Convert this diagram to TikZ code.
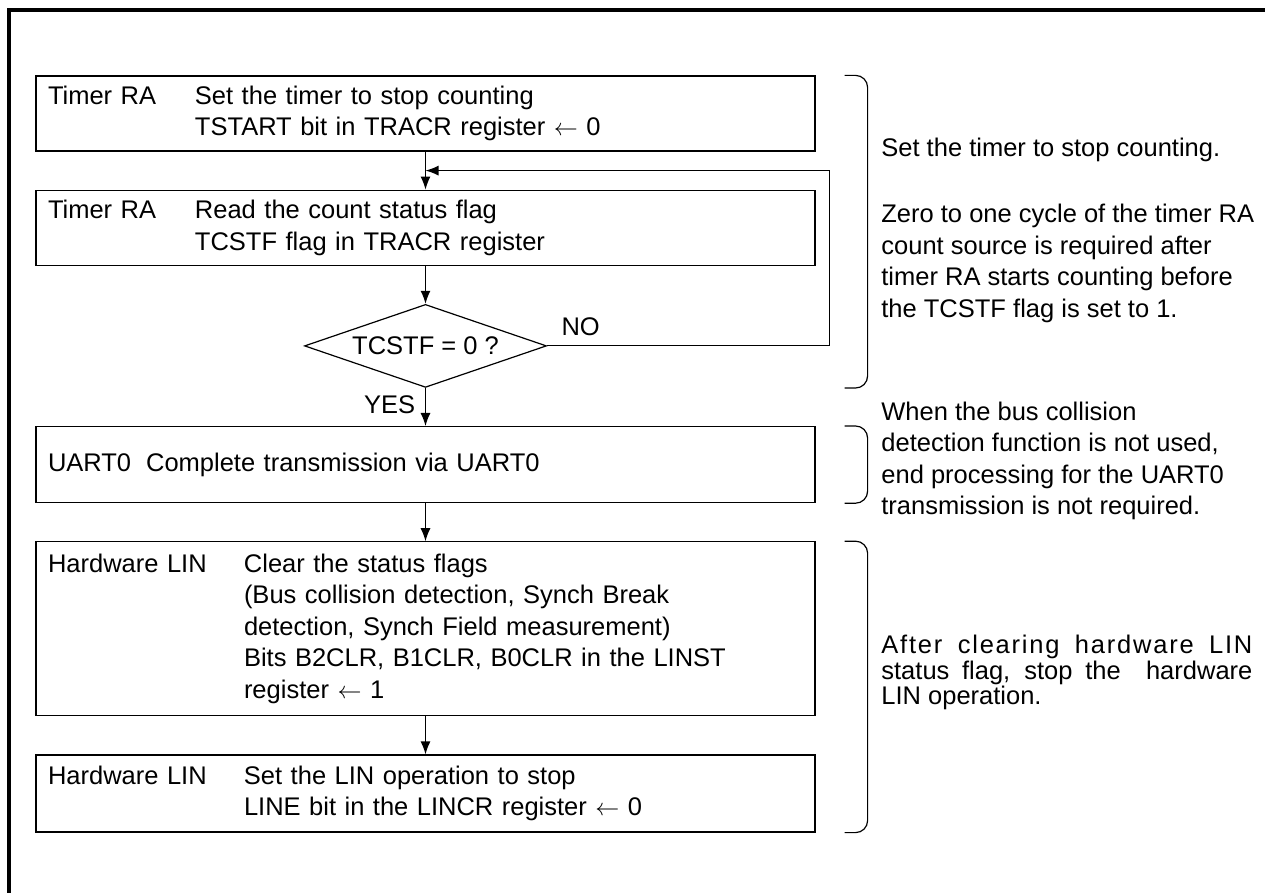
\documentclass[tikz,border=0pt]{standalone}
\usepackage{fontspec}
\setmainfont{Liberation Sans}
\usetikzlibrary{arrows.meta,positioning,calc,shapes.geometric}
\tikzset{
  txt/.style={font=\fontsize{12.75}{15.75}\selectfont},
  arr/.style={-{Latex[length=6.5pt,width=5pt]},line width=0.6pt},
  stepbox/.style={txt,draw,line width=0.6pt,text width=377.5pt,inner xsep=6pt,inner ysep=0pt,align=left,minimum width=389.5pt},
  decide/.style={txt,draw,diamond,aspect=2.9,inner sep=0pt,minimum width=121pt,minimum height=41.5pt,line width=0.6pt},
  brk/.style={line width=0.6pt,rounded corners=6pt},
  note/.style={txt,anchor=west,align=left,inner sep=0pt},
  lbl/.style={txt,inner sep=0pt}
}

\begin{document}
\begin{tikzpicture}[x=0.5pt,y=-0.5pt,node distance=19pt]
  \useasboundingbox (0,0) rectangle (1265,893);
  \draw[line width=1.75pt] (9,905) |- (1275,10);

  \node[stepbox,minimum height=37.5pt] (box1) at (425.5,113.5) {\makebox[73.5pt][l]{Timer RA}Set the timer to stop counting\\\hspace*{73.5pt}TSTART bit in TRACR register $\leftarrow$ 0};
  \node[stepbox,below=of box1,minimum height=37.5pt] (box2) {\makebox[73.5pt][l]{Timer RA}Read the count status flag\\\hspace*{73.5pt}TCSTF flag in TRACR register};
  \node[decide,below=of box2] (dec) {TCSTF = 0 ?};
  \node[stepbox,below=of dec,minimum height=38pt] (box3) {UART0\hspace{7.5pt}Complete transmission via UART0};
  \node[stepbox,below=of box3,minimum height=87pt] (box4) {\makebox[98pt][l]{Hardware LIN}Clear the status flags\\\hspace*{98pt}(Bus collision detection, Synch Break\\\hspace*{98pt}detection, Synch Field measurement)\\\hspace*{98pt}Bits B2CLR, B1CLR, B0CLR in the LINST\\\hspace*{98pt}register $\leftarrow$ 1};
  \node[stepbox,below=of box4,minimum height=38.5pt] (box5) {\makebox[98pt][l]{Hardware LIN}Set the LIN operation to stop\\\hspace*{98pt}LINE bit in the LINCR register $\leftarrow$ 0};

  \draw[arr] (box1)--(box2);\draw[arr] (box2)--(dec);\draw[arr] (dec)--(box3);\draw[arr] (box3)--(box4);\draw[arr] (box4)--(box5);
  \coordinate (join) at ($(box1.south)!.5!(box2.north)$);
  \coordinate (rx) at ([xshift=7pt]box2.east);
  \draw[arr] (dec.east) -| (rx |- join) -- (join);
  \node[lbl,above right=5pt and 7pt of dec.east] (no) {NO};
  \node[lbl,anchor=east] (yes) at ([xshift=-5pt,yshift=-8.5pt]dec.south) {YES};

  \coordinate (bx) at ([xshift=14.5pt]box1.east);
  \coordinate (by) at ([xshift=26pt]box1.east);
  \draw[brk] (bx |- box1.north) -| (by |- dec.south) -- (bx |- dec.south);
  \draw[brk] (bx |- box3.north) -| (by |- box3.south) -- (bx |- box3.south);
  \draw[brk] (bx |- box4.north) -| (by |- box5.south) -- (bx |- box5.south);

  \node[note] (n1) at (881,150) {Set the timer to stop counting.};
  \node[note] (n2) at (881,263.5) {Zero to one cycle of the timer RA\\count source is required after\\timer RA starts counting before\\the TCSTF flag is set to 1.};
  \node[note] (n3) at (881,461) {When the bus collision\\detection function is not used,\\end processing for the UART0\\transmission is not required.};
  \node[note,font=\fontsize{12.75}{12.75}\selectfont] (n4) at (881,672.5) {\makebox[185.5pt][s]{\addfontfeature{LetterSpace=7}After clearing hardware LIN}\\\makebox[185.5pt][s]{status flag, stop the\ \ hardware}\\LIN operation.};
\end{tikzpicture}
\end{document}
